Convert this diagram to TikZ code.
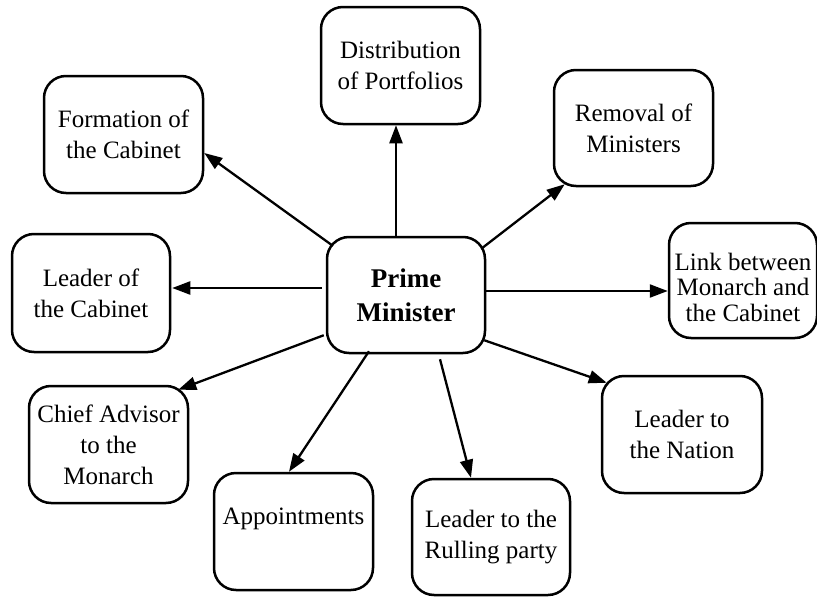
\documentclass[tikz,border=0pt]{standalone}
\usepackage{fontspec}
\setmainfont{Liberation Serif}
\usetikzlibrary{arrows.meta}
\tikzset{
  box/.style={draw=black, line width=2.5pt, rounded corners=22pt, rectangle, inner sep=0pt,
    minimum width=159pt, minimum height=117pt, align=center,
    font=\fontsize{25}{31}\selectfont},
  arr/.style={line width=2.3pt, -{Triangle[length=18pt,width=13pt]}}
}
\begin{document}
\begin{tikzpicture}[x=1pt,y=-1pt]
\useasboundingbox (0,0) rectangle (817,597);
\node[box, minimum width=158pt, minimum height=116pt, font=\fontsize{27}{34}\selectfont\bfseries] (pm) at (406,295) {Prime\\Minister};
\node[box] (dist) at (400.5,65.5) {Distribution\\of Portfolios};
\node[box] (form) at (123.5,134.5) {Formation of\\the Cabinet};
\node[box, minimum height=116pt] (rem) at (633.5,128) {Removal of\\Ministers};
\node[box, minimum width=148pt, minimum height=115pt, font=\fontsize{25}{25.5}\selectfont] (link) at (743,280.5) {\rule{0pt}{31pt}Link between\\Monarch and\\the Cabinet};
\node[box, minimum width=158pt, minimum height=118pt] (leadcab) at (91,293) {Leader of\\the Cabinet};
\node[box] (chief) at (108.5,444.5) {Chief Advisor\\to the\\Monarch};
\node[box] (appt) at (293.5,531.5) {Appointments\\\mbox{}};
\node[box, minimum width=158pt, minimum height=116pt] (rull) at (491,537) {Leader to the\\Rulling party};
\node[box, minimum width=160pt] (nation) at (682,434.5) {Leader to\\the Nation};
\draw[arr] ([shift={(-10,0)}]pm.north) -- ([shift={(-10,0)}]pm.north |- dist.south);
\draw[arr] ([shift={(7,10)}]pm.north west) -- ([shift={(0,18.5)}]form.east);
\draw[arr] ([shift={(-4,-7)}]pm.west) -- ([shift={(1,-5)}]leadcab.east);
\draw[arr] ([shift={(-5,13)}]pm.north east) -- ([shift={(12,-3)}]rem.south west);
\draw[arr] ([shift={(0,-4)}]pm.east) -- ([shift={(0,10.5)}]link.west);
\draw[arr] ([shift={(-2,-19)}]pm.south west) -- ([shift={(-11,5)}]chief.north east);
\draw[arr] ([shift={(-37,-3)}]pm.south) -- ([shift={(-4.5,0)}]appt.north);
\draw[arr] ([shift={(34,5)}]pm.south) -- ([shift={(-20,0)}]rull.north);
\draw[arr] ([shift={(-2,-14)}]pm.south east) -- ([shift={(6,8)}]nation.north west);
\end{tikzpicture}
\end{document}
